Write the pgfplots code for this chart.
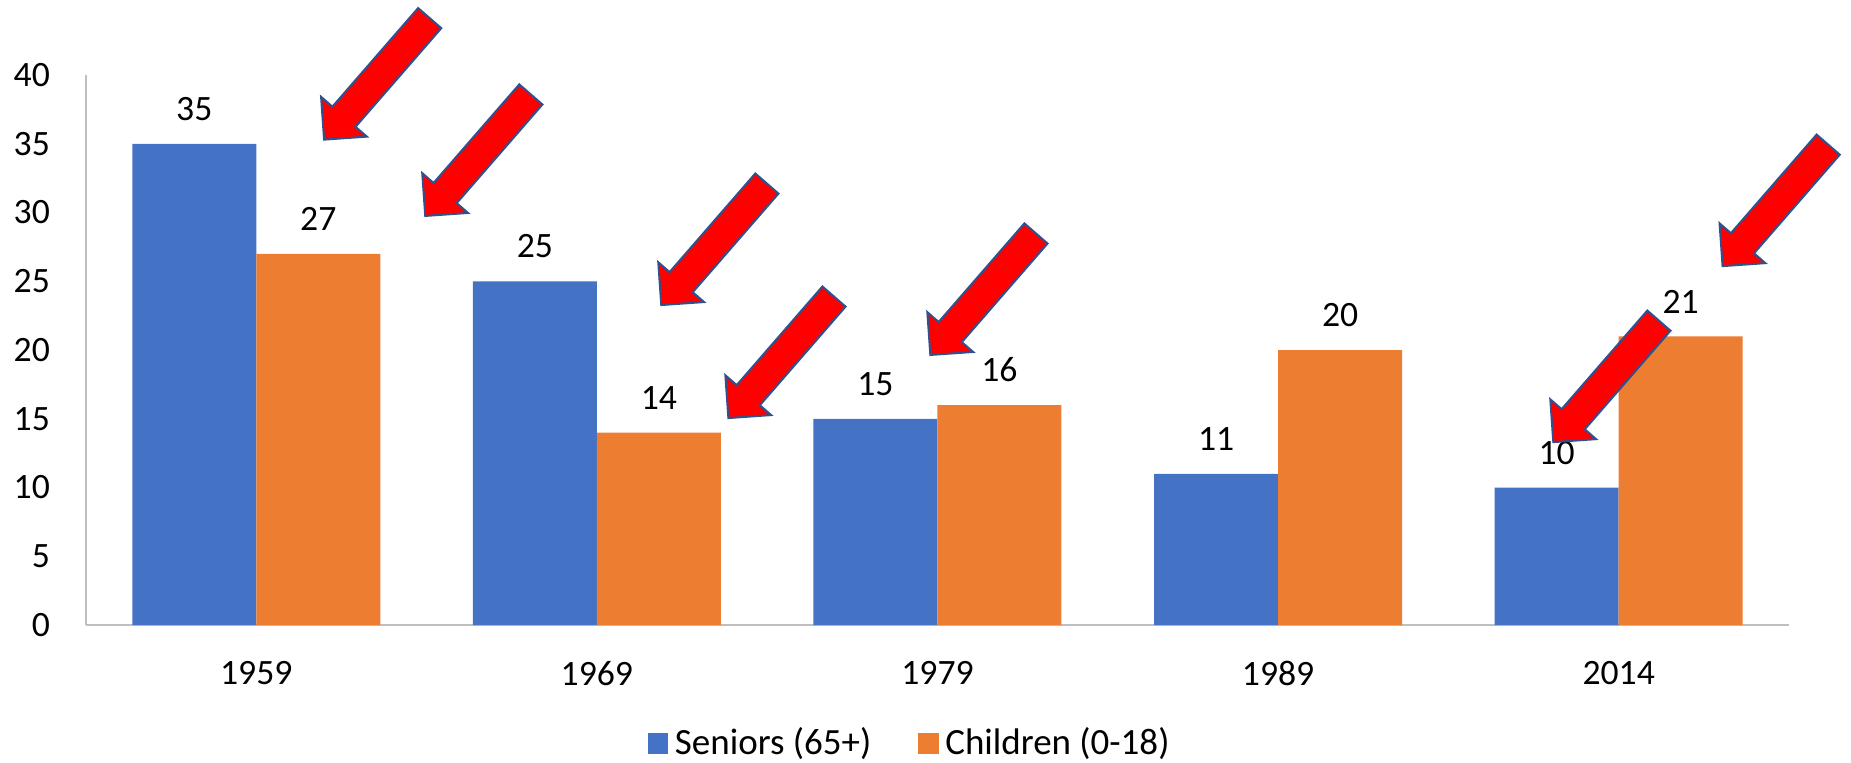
\documentclass[border=0pt]{standalone}
\usepackage{fontspec}
\setmainfont{Carlito}
\usepackage{pgfplots}
\pgfplotsset{compat=1.18}

\definecolor{seniors}{HTML}{4472C4}
\definecolor{children}{HTML}{ED7D31}
\definecolor{arrowred}{HTML}{FF0000}
\definecolor{arrowedge}{HTML}{2F528F}
\definecolor{axisgray}{HTML}{BFBFBF}

\newcommand{\lblfont}{\fontsize{10.7}{12}\selectfont}
\newcommand{\legfont}{\fontsize{11.1}{12}\selectfont}

% red pointer, tip at a named coordinate, tail up and to the right
\tikzset{redarrow/.style={fill=arrowred, draw=arrowedge, line width=0.6pt, line join=miter}}
\newcommand{\redarrow}[1]{%
  \draw[redarrow, shift={(#1)}, rotate=49]
    (0,0) -- (9.1pt,9.1pt) -- (9.1pt,4.6pt) -- (48.3pt,4.6pt)
    -- (48.3pt,-4.6pt) -- (9.1pt,-4.6pt) -- (9.1pt,-9.1pt) -- cycle;}

\begin{document}
\begin{tikzpicture}
\useasboundingbox (-25.8pt,-41.1pt) rectangle (529.5pt,187.5pt);
\begin{axis}[
    scale only axis,
    width=510.9pt,
    height=165pt,
    ybar=0pt,
    bar width=37.2pt,
    xmin=-0.5, xmax=4.5,
    ymin=0, ymax=40,
    xtick=data,
    xticklabels={1959,1969,1979,1989,2014},
    ytick={0,5,...,40},
    axis x line*=bottom,
    axis y line*=left,
    axis line style={-, axisgray, line width=0.6pt},
    major tick length=0pt,
    tick style={draw=none},
    clip=false,
    font=\lblfont,
    tick label style={font=\lblfont},
    xticklabel style={yshift=-7.3pt},
    yticklabel style={xshift=-7.3pt},
    /pgf/number format/assume math mode=true,
    nodes near coords,
    every node near coord/.append style={font=\lblfont, text=black, yshift=3.4pt},
    legend columns=2,
    legend style={at={(0.485,-0.216)}, anchor=center, draw=none,
        font=\legfont, inner sep=0pt,
        /tikz/every even column/.append style={column sep=12pt}},
]
\addplot[fill=seniors, draw=none,
    legend image code/.code={\fill[seniors] (0pt,-3.1pt) rectangle (6.2pt,3.1pt);}]
    coordinates {(0,35) (1,25) (2,15) (3,11) (4,10)};
\addlegendentry{Seniors (65+)}
\addplot[fill=children, draw=none,
    legend image code/.code={\fill[children] (0pt,-3.1pt) rectangle (6.2pt,3.1pt);}]
    coordinates {(0,27) (1,14) (2,16) (3,20) (4,21)};
\addlegendentry{Children (0-18)}

% arrow tips
\coordinate (a1) at (axis cs:0.199,35.3);
\coordinate (a2) at (axis cs:0.496,29.75);
\coordinate (a3) at (axis cs:1.189,23.27);
\coordinate (a4) at (axis cs:1.386,15.05);
\coordinate (a5) at (axis cs:1.979,19.64);
\coordinate (a6) at (axis cs:4.305,26.1);
\coordinate (a7) at (axis cs:3.808,13.3);
\end{axis}
\foreach \a in {a1,a2,a3,a4,a5,a6,a7}{\redarrow{\a}}
\end{tikzpicture}
\end{document}
